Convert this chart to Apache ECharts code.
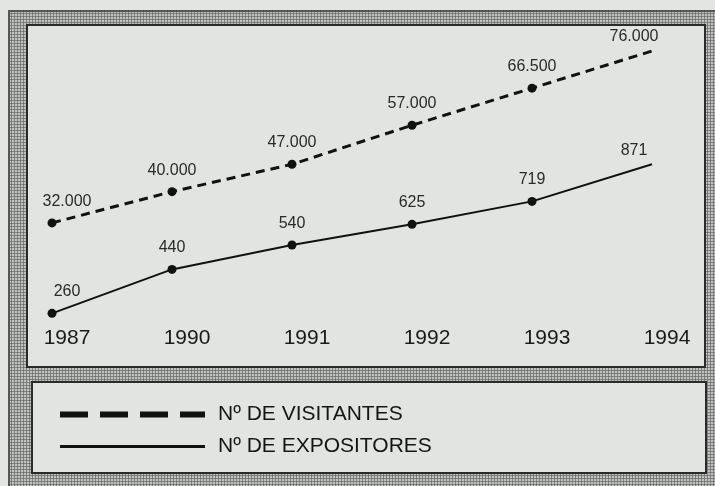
<!DOCTYPE html>
<html>
<head>
<meta charset="utf-8">
<script src="https://cdn.jsdelivr.net/npm/echarts@6/dist/echarts.min.js"></script>
<style>
  html, body { margin: 0; padding: 0; background: #e3e5e3; }
  .frame {
    position: absolute; left: 8px; top: 10px; width: 707px; height: 476px;
    border-left: 2px solid #555; border-top: 2px solid #555; box-sizing: border-box;
    background:
      radial-gradient(circle, #6c6e6c 0.9px, transparent 1.4px) 0 0 / 3px 3px,
      radial-gradient(circle, #8a8c8a 0.6px, transparent 1.1px) 1.5px 1.5px / 3px 3px,
      #dcdedc;
  }
  .chart { position: absolute; left: 0; top: 0; width: 715px; height: 486px; }
</style>
</head>
<body>
<div class="frame"></div>
<div class="chart" id="chart"></div>
<script>
var years = ['1987', '1990', '1991', '1992', '1993', '1994']
var visitantes = [32000, 40000, 47000, 57000, 66500, 76000]
var expositores = [260, 440, 540, 625, 719, 871]
var nameVis = 'Nº DE VISITANTES'
var nameExp = 'Nº DE EXPOSITORES'

// thousands with a dot, like the original
function fmt (v) {
  return String(v).replace(/\B(?=(\d{3})+(?!\d))/g, '.')
}
// first label nudged right, last point has no marker and its label nudged left
function points (arr) {
  return arr.map(function (v, i) {
    if (i === 0) return { value: v, label: { offset: [15, 0] } }
    if (i === arr.length - 1) return { value: v, symbolSize: 0, label: { offset: [-18, 3] } }
    return v
  })
}

var chart = echarts.init(document.getElementById('chart'))
chart.setOption({
  backgroundColor: 'transparent',
  animation: false,
  textStyle: { fontFamily: '"Liberation Sans", Arial, sans-serif' },
  graphic: [
    {
      type: 'rect', z: -10,
      shape: { x: 27, y: 25, width: 678, height: 342 },
      style: { fill: '#e2e4e1', stroke: '#2a2a2a', lineWidth: 2 }
    },
    {
      type: 'rect', z: -10,
      shape: { x: 32, y: 382, width: 674, height: 91 },
      style: { fill: '#e2e4e1', stroke: '#2a2a2a', lineWidth: 2 }
    }
  ],
  grid: {
    left: 52,
    right: 63,
    top: 28,
    bottom: 160
  },
  legend: [
    {
      data: [{ name: nameVis, icon: 'path://M0,0h28v6h-28z M40,0h28v6h-28z M80,0h28v6h-28z M120,0h25v6h-25z' }],
      left: 55,
      top: 399,
      itemWidth: 145,
      itemHeight: 6,
      symbolKeepAspect: false,
      selectedMode: false,
      textStyle: { fontSize: 21, color: '#151515', padding: [0, 0, 0, 8] }
    },
    {
      data: [{ name: nameExp, icon: 'rect' }],
      left: 55,
      top: 431,
      itemWidth: 145,
      itemHeight: 3,
      symbolKeepAspect: false,
      selectedMode: false,
      textStyle: { fontSize: 21, color: '#151515', padding: [0, 0, 0, 8] }
    }
  ],
  xAxis: {
    type: 'category',
    data: years,
    boundaryGap: false,
    axisLine: { show: false },
    axisTick: { show: false },
    axisLabel: {
      fontSize: 21,
      color: '#1a1a1a',
      margin: 2,
      padding: [0, 0, 0, 30]
    }
  },
  yAxis: [
    { type: 'value', min: 5600, max: 81900, show: false, splitLine: { show: false } },
    { type: 'value', min: 208, max: 1430, show: false, splitLine: { show: false } }
  ],
  series: [
    {
      name: nameVis,
      type: 'line',
      yAxisIndex: 0,
      data: points(visitantes),
      color: '#111',
      symbol: 'circle',
      symbolSize: 9,
      lineStyle: { width: 3, type: [9, 6], color: '#111' },
      label: {
        show: true,
        position: 'top',
        distance: 9,
        fontSize: 16,
        color: '#2a2a2a',
        formatter: function (p) { return fmt(p.value) }
      }
    },
    {
      name: nameExp,
      type: 'line',
      yAxisIndex: 1,
      data: points(expositores),
      color: '#111',
      symbol: 'circle',
      symbolSize: 9,
      lineStyle: { width: 2, color: '#111' },
      label: {
        show: true,
        position: 'top',
        distance: 9,
        fontSize: 16,
        color: '#2a2a2a',
        formatter: function (p) { return fmt(p.value) }
      }
    }
  ]
})
window.addEventListener('resize', chart.resize)
</script>
</body>
</html>
